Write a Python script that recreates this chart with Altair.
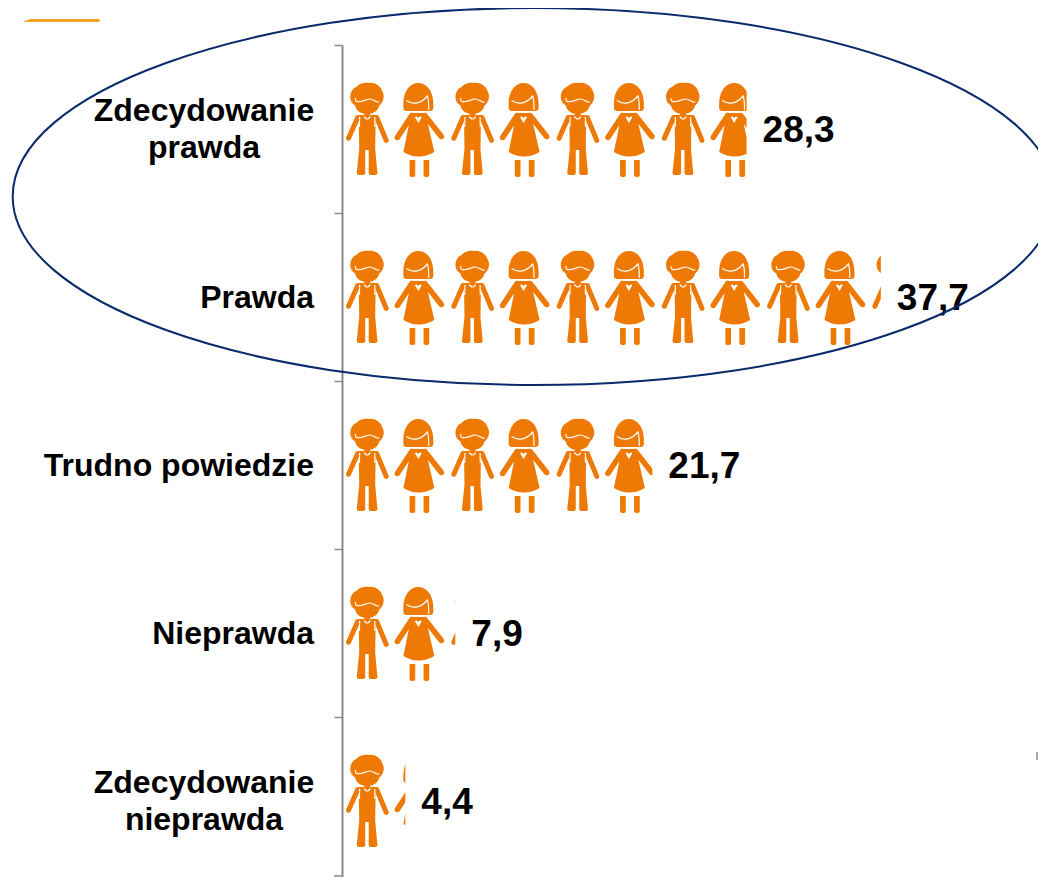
import math
import altair as alt
import pandas as pd

categories = ["Zdecydowanie\nprawda", "Prawda", "Trudno powiedzie", "Nieprawda", "Zdecydowanie\nnieprawda"]
values = [28.3, 37.7, 21.7, 7.9, 4.4]
value_labels = ["28,3", "37,7", "21,7", "7,9", "4,4"]

ORANGE = "#EE7A05"
NAVY = "#0A2A6B"
GREY = "#8A8A8A"
FONT = "Liberation Sans"
UNIT_STEP = 3.686   # one figure stands for this many units
UNIT_START = 1.73


def capsule(x1, y1, x2, y2, r):
    d = math.hypot(x2 - x1, y2 - y1)
    nx, ny = (y2 - y1) / d * r, -(x2 - x1) / d * r
    return (f"M{x1+nx:.2f},{y1+ny:.2f} L{x2+nx:.2f},{y2+ny:.2f} "
            f"A{r},{r} 0 1,1 {x2-nx:.2f},{y2-ny:.2f} L{x1-nx:.2f},{y1-ny:.2f} "
            f"A{r},{r} 0 1,1 {x1+nx:.2f},{y1+ny:.2f} Z ")


BOY = (
    "M-17,-32 C-17,-37 -14,-41 -11,-42 C-8,-46 -2,-47 2,-46 C8,-47 14,-42 15,-38 "
    "C17,-35 17,-30 15,-27 C14,-25 13,-24 12,-23.5 C11,-18 6,-15 0,-15 "
    "C-6,-15 -11,-18 -12,-23.5 C-15,-25 -17,-28 -17,-32 Z "
    "M-3,-17 L3,-17 L3,-13 L-3,-13 Z "
    "M-8.5,-14 L8.5,-14 L8,20 L10.2,44 Q10.2,46 8.2,46 L3.5,46 Q1.5,46 1.5,44 L1.5,21 L-2,21 L-2,44 "
    "Q-2,46 -4,46 L-8.5,46 Q-10.5,46 -10.5,44 L-8,20 Z "
    + capsule(-9.5, -11.5, -18.7, 9.3, 2.5)
    + capsule(9.5, -11.5, 19, 11.4, 2.5)
)
BOY_WHITE = (
    "M-12,-31 C-12,-27 -10,-27 -7,-27.5 C-3,-28 0,-30 3,-30 C6,-30 9,-26 12,-27 "
    "M-7.6,-12 L-7.8,-2 M7.6,-12 L7.8,-2 M-3.2,-12.5 L-1,-10 L1,-10 L3.2,-12.5"
)
GIRL = (
    "M-16.5,-25 C-16.5,-38 -10,-46 -1.5,-46 C7,-46 13.5,-38 13.5,-25 L13.5,-21 Q13.5,-18 10,-18 "
    "L-13,-18 Q-16.5,-18 -16.5,-21 Z "
    "M-8.5,-16 L5.5,-16 L14.5,23 Q-1,32 -16.5,23 Z "
    "M-10.3,31 L-4.6,31 L-4.6,46 Q-4.6,48 -6.6,48 L-8.3,48 Q-10.3,48 -10.3,46 Z "
    "M3.7,31 L9.4,31 L9.4,46 Q9.4,48 7.4,48 L5.7,48 Q3.7,48 3.7,46 Z "
    + capsule(-8, -13.5, -22.5, 8.5, 2.8)
    + capsule(5, -13.5, 21.5, 7.5, 2.8)
)
GIRL_WHITE = "M-13.5,-28.5 C-7,-24 1,-25 7.5,-33 C8.5,-30 9,-25 8.8,-19"
GIRL_HEART = "M-5,-12 L-3,-12.5 L-1.5,-11 L0,-12.5 L2,-12 L-1.5,-6 Z"
ELLIPSE = "M-521,0 A521,188.5 0 1,0 521,0 A521,188.5 0 1,0 -521,0 Z"
ACCENT = "M-38.5,1.2 L-31,-1.2 L38.5,-1.2 L38.5,1.2 Z"

rows = pd.DataFrame({
    "cat": categories, "value": values, "label": value_labels,
    "cover": [v + UNIT_STEP for v in values],
})
icon_rows = []
for c, v in zip(categories, values):
    i = 0
    while UNIT_START + i * UNIT_STEP - 26 / 14.28 < v:
        icon_rows.append({"cat": c, "pos": UNIT_START + i * UNIT_STEP, "kind": "boy" if i % 2 == 0 else "girl"})
        i += 1
icons = pd.DataFrame(icon_rows)
boys = icons[icons.kind == "boy"]
girls = icons[icons.kind == "girl"]

xs = alt.Scale(domain=[0, 49.3], nice=False, zero=False, range=[0.5, 704.5])
ys = alt.Scale(domain=categories, paddingInner=0, paddingOuter=0, range=[0, 840])
AXIS = alt.Axis(labels=False, title=None, tickBand="extent", tickSize=8, tickWidth=1.5,
                tickColor=GREY, domainColor=GREY, domainWidth=2, grid=False)
X = alt.X("pos:Q", scale=xs, axis=None)
Y = alt.Y("cat:N", scale=ys, sort=categories, axis=AXIS, title=None)


def icon_layer(df, path):
    return alt.Chart(df).mark_point(shape=path, size=4, filled=True, fill=ORANGE, opacity=1, strokeWidth=0).encode(x=X, y=Y)


def detail_layer(df, path):
    return alt.Chart(df).mark_point(shape=path, size=4, filled=False, stroke="white", strokeWidth=1.2, opacity=1).encode(x=X, y=Y)


cover = alt.Chart(rows).mark_rect(color="white", opacity=1).encode(
    x=alt.X("value:Q", scale=xs, axis=None), x2="cover:Q", y=Y)

val_text = alt.Chart(rows).mark_text(font=FONT, fontWeight="bold", fontSize=37, align="left",
                                     baseline="middle", dx=16, dy=2, color="black").encode(
    x=alt.X("value:Q", scale=xs, axis=None), y=Y, text="label:N")

single = rows[~rows.cat.str.contains("\n")]
double = rows[rows.cat.str.contains("\n")]
lab1 = alt.Chart(single).mark_text(font=FONT, fontWeight="bold", fontSize=32, align="right",
                                   baseline="middle", dy=1, color="black").encode(
    x=alt.value(-28), y=Y, text="cat:N")
lab2 = alt.Chart(double).mark_text(font=FONT, fontWeight="bold", fontSize=32, align="center",
                                   baseline="middle", dy=-18, color="black", lineBreak="\n", lineHeight=37).encode(
    x=alt.value(-138), y=Y, text="cat:N")

one = pd.DataFrame({"a": [1]})
ellipse = alt.Chart(one).mark_point(shape=ELLIPSE, size=4, filled=False, stroke=NAVY, strokeWidth=2, opacity=1).encode(
    x=alt.value(191.7), y=alt.value(151.5))
accent = alt.Chart(one).mark_point(shape=ACCENT, size=4, filled=True, fill="#F59200", opacity=1, strokeWidth=0).encode(
    x=alt.value(-281), y=alt.value(-24.5))
sliver = alt.Chart(one).mark_rule(color="#8c8c8c", strokeWidth=1.5).encode(
    x=alt.value(695), y=alt.value(707), y2=alt.value(715))
end_tick = alt.Chart(one).mark_rule(color=GREY, strokeWidth=1.5).encode(
    x=alt.value(-8), x2=alt.value(0), y=alt.value(831))

chart = alt.layer(
    icon_layer(boys, BOY), detail_layer(boys, BOY_WHITE),
    icon_layer(girls, GIRL), detail_layer(girls, GIRL_WHITE),
    alt.Chart(girls).mark_point(shape=GIRL_HEART, size=4, filled=True, fill="white", opacity=1, strokeWidth=0).encode(x=X, y=Y),
    cover, lab1, lab2, val_text, accent, sliver, end_tick, ellipse,
).properties(
    width=696, height=832,
    padding={"left": 334, "top": 37, "right": 0, "bottom": 0},
    autosize=alt.AutoSizeParams(type="none"),
    background="white",
).configure_view(stroke=None)

chart.save("out.html", embed_options={"renderer": "svg", "actions": False})
